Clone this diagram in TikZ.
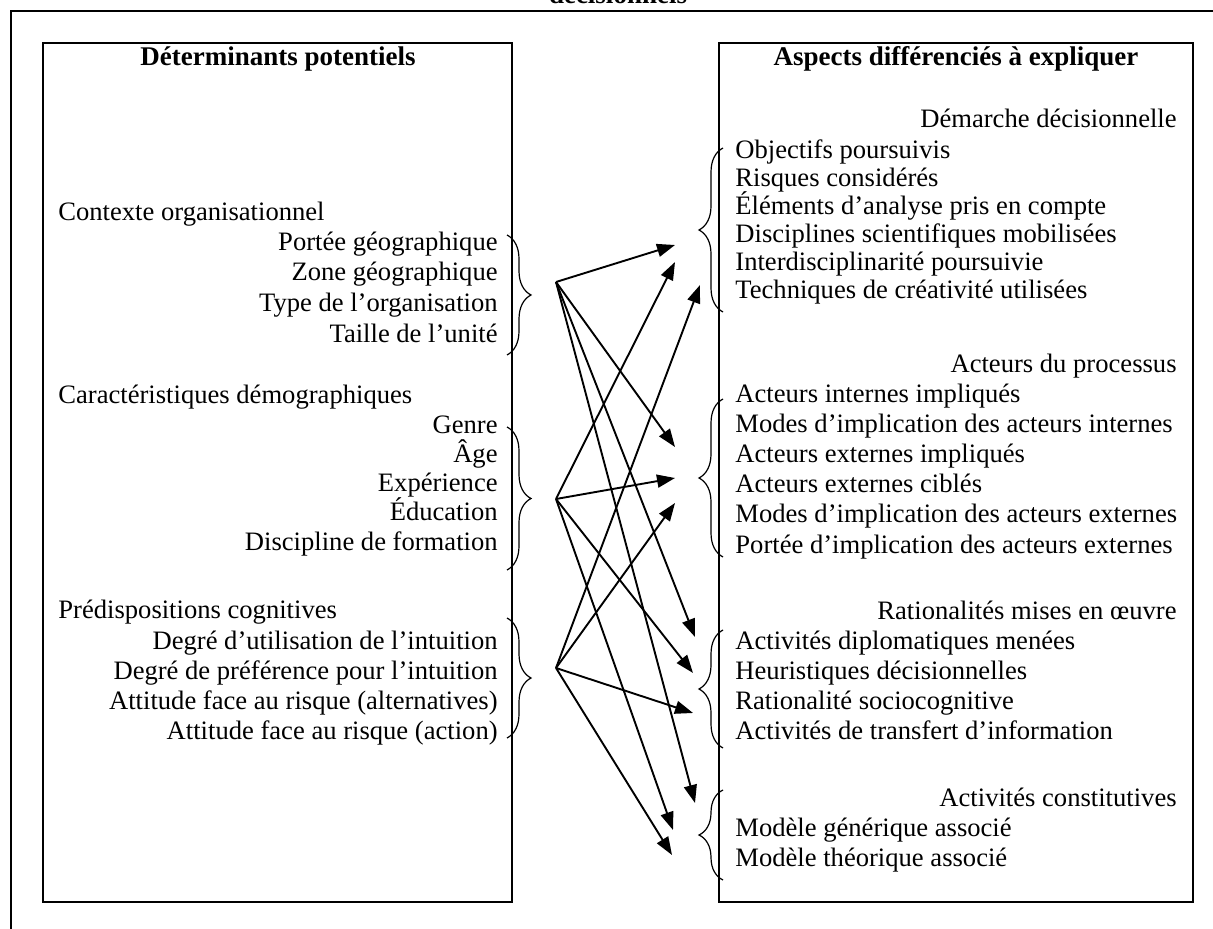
\documentclass[tikz,border=0pt]{standalone}
\usepackage{fontspec}
\setmainfont{Liberation Serif}
\usetikzlibrary{arrows.meta, positioning, decorations.pathreplacing}

\begin{document}
\begin{tikzpicture}[
  x=0.5pt, y=-0.5pt,
  font=\fontsize{13.3}{15}\selectfont,
  every node/.style={inner sep=0pt},
  frameline/.style={line width=1pt},
  panel/.style={line width=1.2pt},
  headtxt/.style={font=\fontsize{13.5}{15}\selectfont\bfseries, anchor=base},
  lefttxt/.style={anchor=base west},
  righttxt/.style={anchor=base east},
  bracetip/.style={decorate, decoration={brace, amplitude=12pt}, line width=0.6pt},
  linkarrow/.style={-{Triangle[length=9pt, width=6.5pt]}, line width=0.95pt},
]
\useasboundingbox (0,0) rectangle (1213,929);

%% outer frame (cut by the page) and its caption
\node[headtxt] (caption) at (618,4) {décisionnels};
\draw[frameline] (11,929) -- (11,11) -- (1213,11);

%% the two panels
\draw[panel] (43,43) rectangle (512,902);
\draw[panel] (719,43) rectangle (1193,902);
\node[headtxt] (detTitle) at (278,66) {Déterminants potentiels};
\node[headtxt] (aspTitle) at (956,66) {Aspects différenciés à expliquer};

%% Left panel: potential determinants
\node[lefttxt] (ctx) at (58,221) {Contexte organisationnel};
\node[righttxt] (ctx1) at (498,251) {Portée géographique};
\node[righttxt] (ctx2) at (498,281) {Zone géographique};
\node[righttxt] (ctx3) at (498,312) {Type de l’organisation};
\node[righttxt] (ctx4) at (498,343) {Taille de l’unité};

\node[lefttxt] (demo) at (58,404) {Caractéristiques démographiques};
\node[righttxt] (demo1) at (498,434) {Genre};
\node[righttxt] (demo2) at (498,463) {Âge};
\node[righttxt] (demo3) at (498,492) {Expérience};
\node[righttxt] (demo4) at (498,521) {Éducation};
\node[righttxt] (demo5) at (498,550) {Discipline de formation};

\node[lefttxt] (cog) at (58,618) {Prédispositions cognitives};
\node[righttxt] (cog1) at (498,649) {Degré d’utilisation de l’intuition};
\node[righttxt] (cog2) at (498,679) {Degré de préférence pour l’intuition};
\node[righttxt] (cog3) at (498,709) {Attitude face au risque (alternatives)};
\node[righttxt] (cog4) at (498,739) {Attitude face au risque (action)};

%% Right panel: aspects to explain
\node[righttxt] (dem) at (1177,128) {Démarche décisionnelle};
\node[lefttxt] (dem1) at (735,159) {Objectifs poursuivis};
\node[lefttxt] (dem2) at (735,187) {Risques considérés};
\node[lefttxt] (dem3) at (735,215) {Éléments d’analyse pris en compte};
\node[lefttxt] (dem4) at (735,243) {Disciplines scientifiques mobilisées};
\node[lefttxt] (dem5) at (735,271) {Interdisciplinarité poursuivie};
\node[lefttxt] (dem6) at (735,299) {Techniques de créativité utilisées};

\node[righttxt] (act) at (1177,373) {Acteurs du processus};
\node[lefttxt] (act1) at (735,403) {Acteurs internes impliqués};
\node[lefttxt] (act2) at (735,433) {Modes d’implication des acteurs internes};
\node[lefttxt] (act3) at (735,463) {Acteurs externes impliqués};
\node[lefttxt] (act4) at (735,493) {Acteurs externes ciblés};
\node[lefttxt] (act5) at (735,523) {Modes d’implication des acteurs externes};
\node[lefttxt] (act6) at (735,553) {Portée d’implication des acteurs externes};

\node[righttxt] (rat) at (1177,619) {Rationalités mises en œuvre};
\node[lefttxt] (rat1) at (735,649) {Activités diplomatiques menées};
\node[lefttxt] (rat2) at (735,679) {Heuristiques décisionnelles};
\node[lefttxt] (rat3) at (735,709) {Rationalité sociocognitive};
\node[lefttxt] (rat4) at (735,739) {Activités de transfert d’information};

\node[righttxt] (cons) at (1177,806) {Activités constitutives};
\node[lefttxt] (cons1) at (735,836) {Modèle générique associé};
\node[lefttxt] (cons2) at (735,866) {Modèle théorique associé};

%% Braces
\draw[bracetip] (507,235) -- (507,355);
\draw[bracetip] (507,427) -- (507,570);
\draw[bracetip] (507,618) -- (507,738);
\draw[bracetip] (723,312) -- (723,148);
\draw[bracetip] (723,557) -- (723,399);
\draw[bracetip] (723,748) -- (723,630);
\draw[bracetip] (723,880) -- (723,790);

%% fan origins and arrow ends
\coordinate (oCtx) at (556,282);
\coordinate (oDemo) at (556,499);
\coordinate (oCog) at (556,668);
\coordinate (dmA) at (675,245);
\coordinate (dmB) at (675,262);
\coordinate (dmC) at (700,285);
\coordinate (acA) at (675,447);
\coordinate (acB) at (675,478);
\coordinate (acC) at (675,503);
\coordinate (raA) at (695,637);
\coordinate (raB) at (693,673);
\coordinate (raC) at (693,713);
\coordinate (coA) at (695,803);
\coordinate (coB) at (673,830);
\coordinate (coC) at (672,855);

%% Arrows
\draw[linkarrow] (oCtx) -- (dmA);
\draw[linkarrow] (oCtx) -- (acA);
\draw[linkarrow] (oCtx) -- (raA);
\draw[linkarrow] (oCtx) -- (coA);
\draw[linkarrow] (oDemo) -- (dmB);
\draw[linkarrow] (oDemo) -- (acB);
\draw[linkarrow] (oDemo) -- (raB);
\draw[linkarrow] (oDemo) -- (coB);
\draw[linkarrow] (oCog) -- (dmC);
\draw[linkarrow] (oCog) -- (acC);
\draw[linkarrow] (oCog) -- (raC);
\draw[linkarrow] (oCog) -- (coC);

\end{tikzpicture}
\end{document}
